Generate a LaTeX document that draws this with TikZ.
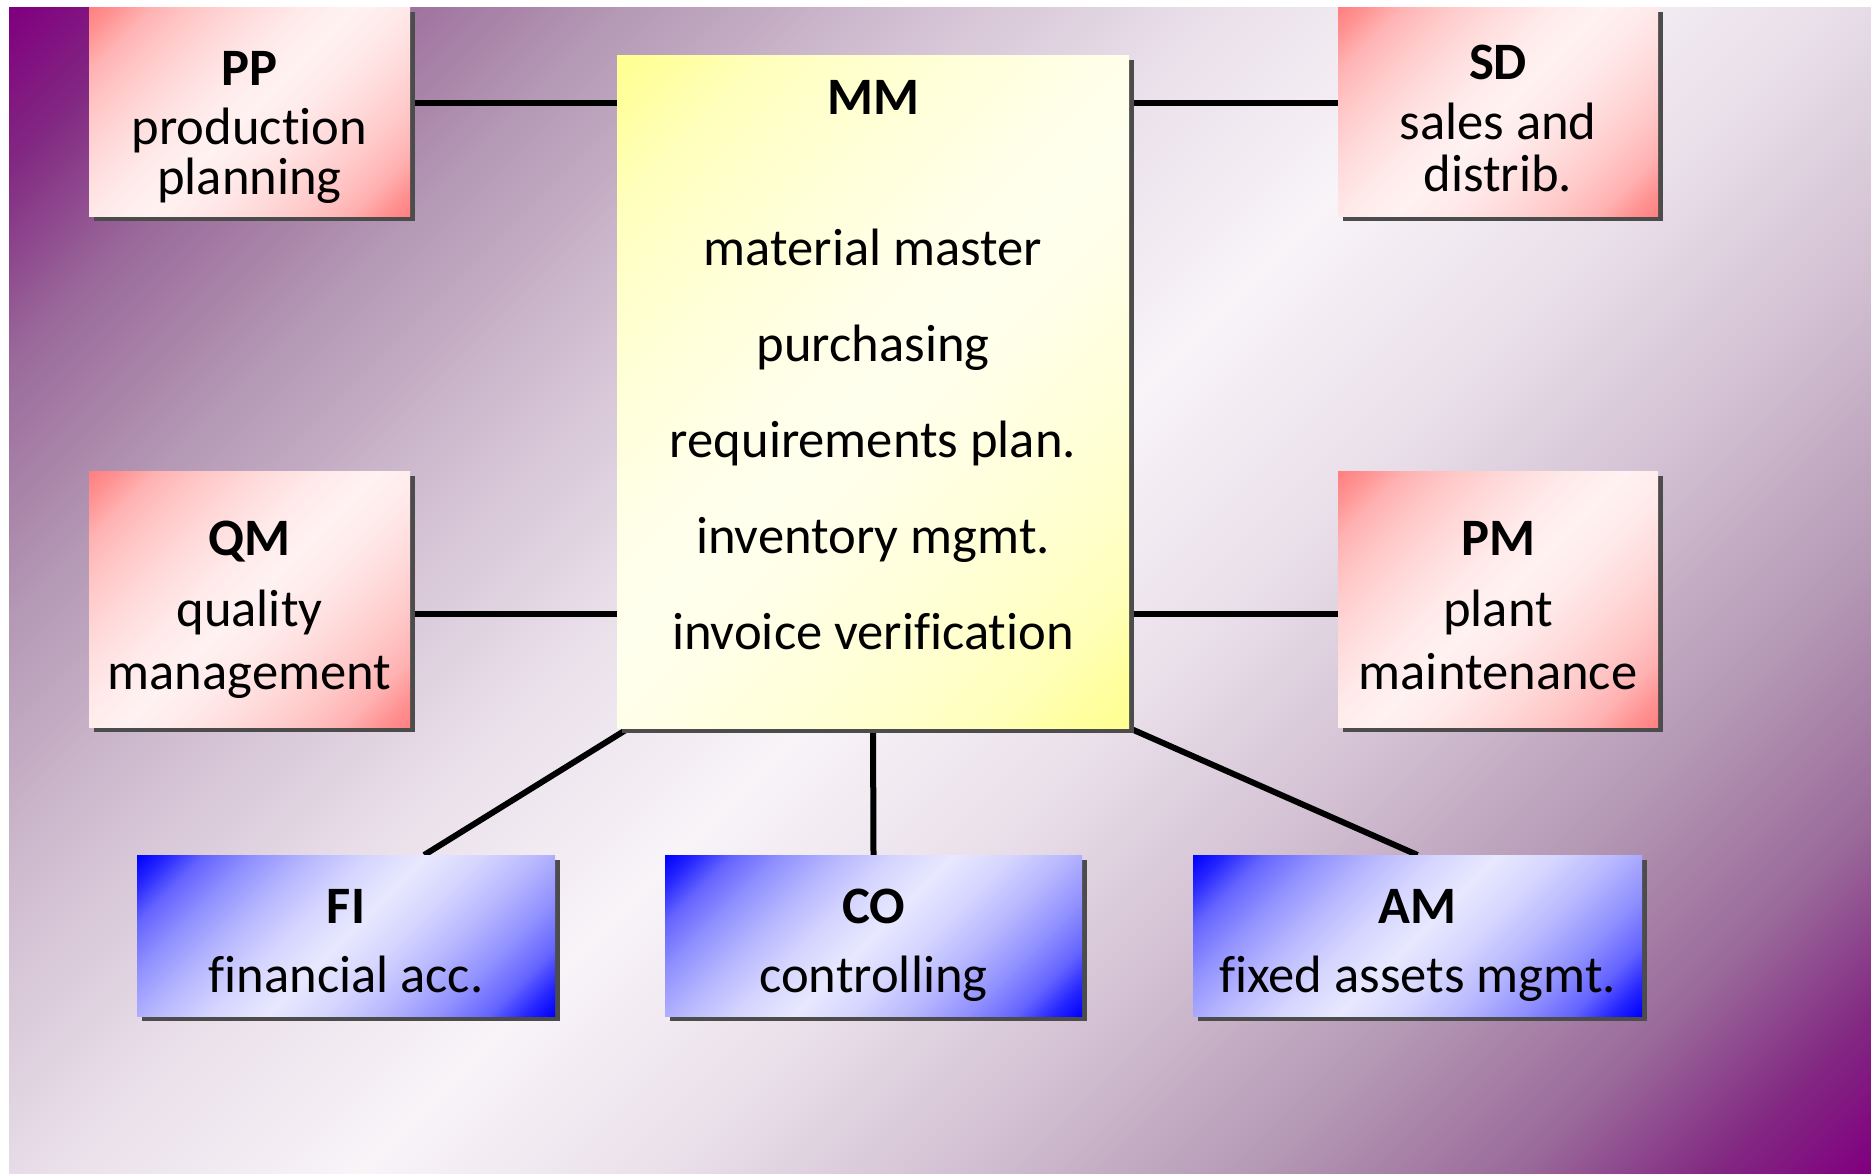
\documentclass[tikz,border=0pt]{standalone}
\usepackage{fontspec}
\setmainfont{Carlito}[Ligatures={NoCommon}]
\usetikzlibrary{fit,shadows,calc}
% background colours
\definecolor{bgA}{RGB}{128,0,128}
\definecolor{bgB}{RGB}{130,40,130}
\definecolor{bgC}{RGB}{154,106,154}
\definecolor{bgD}{RGB}{180,152,180}
\definecolor{bgE}{RGB}{210,192,210}
\definecolor{bgF}{RGB}{234,224,234}
\definecolor{bgG}{RGB}{248,244,248}
% pink
\definecolor{pkA}{RGB}{255,128,128}
\definecolor{pkB}{RGB}{255,146,146}
\definecolor{pkC}{RGB}{255,177,177}
\definecolor{pkD}{RGB}{255,199,199}
\definecolor{pkE}{RGB}{255,218,218}
\definecolor{pkF}{RGB}{255,233,233}
\definecolor{pkG}{RGB}{255,242,242}
% yellow
\definecolor{ylA}{RGB}{255,255,145}
\definecolor{ylB}{RGB}{255,255,160}
\definecolor{ylC}{RGB}{255,255,185}
\definecolor{ylD}{RGB}{255,255,203}
\definecolor{ylE}{RGB}{255,255,218}
\definecolor{ylF}{RGB}{255,255,231}
\definecolor{ylG}{RGB}{255,255,238}
% blue
\definecolor{blA}{RGB}{0,0,255}
\definecolor{blB}{RGB}{37,37,255}
\definecolor{blC}{RGB}{100,100,255}
\definecolor{blD}{RGB}{144,144,255}
\definecolor{blE}{RGB}{183,183,255}
\definecolor{blF}{RGB}{213,213,255}
\definecolor{blG}{RGB}{232,232,255}
\newcommand\mkshade[2]{%
  \pgfdeclarehorizontalshading{#1}{100bp}{color(0bp)=(#2A); color(14.64bp)=(#2A);
    color(18.18bp)=(#2B); color(22.77bp)=(#2C); color(28.78bp)=(#2D);
    color(35.86bp)=(#2E); color(42.93bp)=(#2F); color(50bp)=(#2G);
    color(57.07bp)=(#2F); color(64.14bp)=(#2E); color(71.22bp)=(#2D);
    color(77.23bp)=(#2C); color(81.82bp)=(#2B); color(85.36bp)=(#2A);
    color(100bp)=(#2A)}}
\mkshade{bgsh}{bg}
\mkshade{pinksh}{pk}
\mkshade{yellowsh}{yl}
\mkshade{bluesh}{bl}
\begin{document}
\begin{tikzpicture}[x=0.5pt,y=-0.5pt,
  box/.style={inner sep=0pt, outer sep=0pt, draw=none,
    drop shadow={shadow xshift=2.5pt, shadow yshift=-2.5pt, opacity=1, fill=black!70},
    shade, shading angle=-45},
  pinkbox/.style={box, shading=pinksh},
  yellowbox/.style={box, shading=yellowsh},
  bluebox/.style={box, shading=bluesh},
  ghost/.style={inner sep=0pt, outer sep=0pt},
  txt/.style={inner sep=0pt, outer sep=0pt, anchor=base,
    font=\fontsize{26.3}{30}\selectfont},
  ttl/.style={txt, font=\fontsize{26.3}{30}\selectfont\bfseries},
  conn/.style={draw=black, line width=3pt}]
\useasboundingbox (0,0) rectangle (1871,1173);
\fill[white] (0,0) rectangle (1871,1173);
\shade[shading=bgsh, shading angle=-45] (9,7) rectangle (1871,1173);

% helper coordinates for connector heights
\coordinate (upline) at (0,103);
\coordinate (lowline) at (0,614);

% box corners
\path (89,7) coordinate (PPa) (410,216) coordinate (PPb);
\path (617,55) coordinate (MMa) (1129,728) coordinate (MMb);
\path (1338,7) coordinate (SDa) (1658,216) coordinate (SDb);
\path (89,471) coordinate (QMa) (410,727) coordinate (QMb);
\path (1338,471) coordinate (PMa) (1658,727) coordinate (PMb);
\path (137,855) coordinate (FIa) (555,1016) coordinate (FIb);
\path (665,855) coordinate (COa) (1082,1016) coordinate (COb);
\path (1193,855) coordinate (AMa) (1642,1016) coordinate (AMb);

% invisible outlines used to route the connectors
\node[ghost, fit={(PPa) (PPb)}] (PPg) {};
\node[ghost, fit={(MMa) (MMb)}] (MMg) {};
\node[ghost, fit={(SDa) (SDb)}] (SDg) {};
\node[ghost, fit={(QMa) (QMb)}] (QMg) {};
\node[ghost, fit={(PMa) (PMb)}] (PMg) {};
\node[ghost, fit={(FIa) (FIb)}] (FIg) {};
\node[ghost, fit={(COa) (COb)}] (COg) {};
\node[ghost, fit={(AMa) (AMb)}] (AMg) {};

% connectors
\draw[conn] (PPg.east |- upline) -- (MMg.west |- upline);
\draw[conn] (MMg.east |- upline) -- (SDg.west |- upline);
\draw[conn] (QMg.east |- lowline) -- (MMg.west |- lowline);
\draw[conn] (MMg.east |- lowline) -- (PMg.west |- lowline);
\draw[conn] ($(MMg.south west)!0.0234!(MMg.south east)$) -- ($(FIg.north west)!0.687!(FIg.north east)$);
\draw[conn] (MMg.south) -- (COg.north);
\draw[conn] (MMg.south east) -- (AMg.north);

% visible boxes
\node[pinkbox, fit={(PPa) (PPb)}] (PP) {};
\node[yellowbox, fit={(MMa) (MMb)}] (MM) {};
\node[pinkbox, fit={(SDa) (SDb)}] (SD) {};
\node[pinkbox, fit={(QMa) (QMb)}] (QM) {};
\node[pinkbox, fit={(PMa) (PMb)}] (PM) {};
\node[bluebox, fit={(FIa) (FIb)}] (FI) {};
\node[bluebox, fit={(COa) (COb)}] (CO) {};
\node[bluebox, fit={(AMa) (AMb)}] (AM) {};

% texts
\node[ttl] (PPt) at (249.5,85) {PP};
\node[txt] (PP1) at (249.5,144) {production};
\node[txt] (PP2) at (249.5,194) {planning};

\node[ttl] (SDt) at (1498,79) {SD};
\node[txt] (SD1) at (1498,139) {sales and};
\node[txt] (SD2) at (1498,191) {distrib.};

\node[ttl] (MMt) at (873,114) {MM};
\node[txt] (MM1) at (873,265) {material master};
\node[txt] (MM2) at (873,361) {purchasing};
\node[txt] (MM3) at (873,457) {requirements plan.};
\node[txt] (MM4) at (873,553) {inventory mgmt.};
\node[txt] (MM5) at (873,649) {invoice verification};

\node[ttl] (QMt) at (249.5,555) {QM};
\node[txt] (QM1) at (249.5,626) {quality};
\node[txt] (QM2) at (249.5,689) {management};

\node[ttl] (PMt) at (1498,555) {PM};
\node[txt] (PM1) at (1498,626) {plant};
\node[txt] (PM2) at (1498,689) {maintenance};

\node[ttl] (FIt) at (346,923) {FI};
\node[txt] (FI1) at (346,992) {financial acc.};

\node[ttl] (COt) at (873.5,923) {CO};
\node[txt] (CO1) at (873.5,992) {controlling};

\node[ttl] (AMt) at (1417.5,923) {AM};
\node[txt] (AM1) at (1417.5,992) {fixed assets mgmt.};
\end{tikzpicture}
\end{document}
